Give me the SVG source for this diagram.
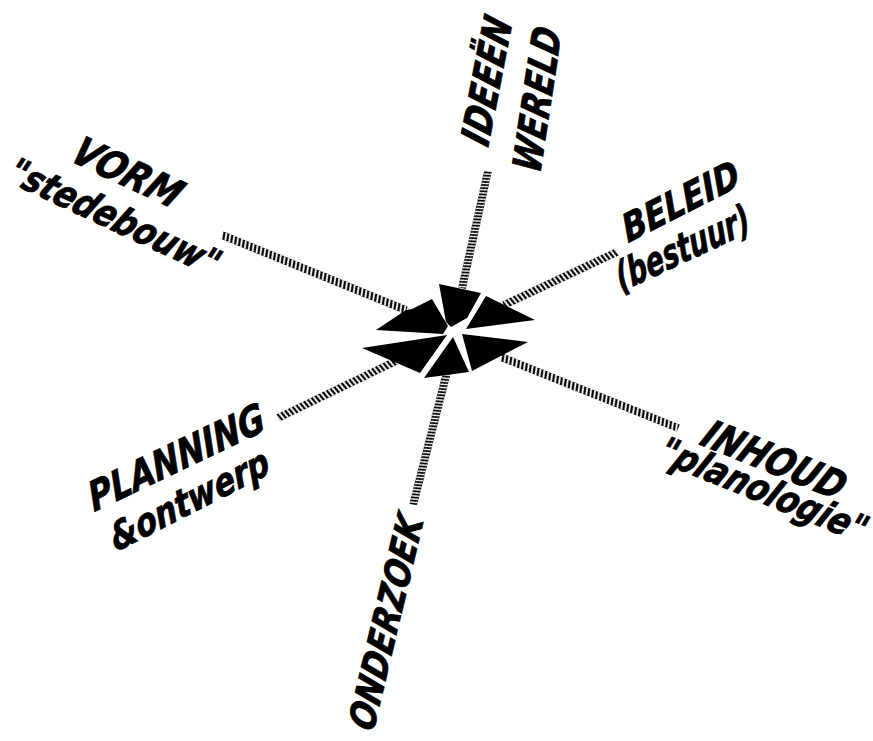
<svg xmlns="http://www.w3.org/2000/svg" width="873" height="741" viewBox="0 0 873 741">
<defs>
<pattern id="rope" patternUnits="userSpaceOnUse" x="0" y="-4" width="4.2" height="8">
<polygon points="0,0 2.3,0 4.2,8 1.9,8" fill="#000"/>
</pattern>
<pattern id="ropefine" patternUnits="userSpaceOnUse" x="0" y="-4" width="3.2" height="8">
<polygon points="0,0 1.8,0 3.2,8 1.4,8" fill="#000"/>
</pattern>
</defs>
<style>
.rope{stroke:url(#rope);stroke-width:8;fill:none}
.fine{stroke:url(#ropefine);stroke-width:8;fill:none}
.head{fill:#000;stroke:none}
.lbl{font-family:"DejaVu Sans Condensed","DejaVu Sans","Liberation Sans",sans-serif;font-weight:bold;font-style:oblique;fill:#000;stroke:#000;stroke-width:0.8}
</style>
<rect width="873" height="741" fill="#fff"/>
<g id="connectors">
<g transform="translate(488,171) rotate(102.5)"><path class="fine" d="M0 0H120"/></g>
<g transform="translate(617,252) rotate(154.9)"><path class="rope" d="M0 0H125"/></g>
<g transform="translate(501,357) rotate(21.86)"><path class="rope" d="M0 0H191"/></g>
<g transform="translate(447,372) rotate(104.3)"><path class="fine" d="M0 0H137"/></g>
<g transform="translate(278,418) rotate(-25.8)"><path class="rope" d="M0 0H131"/></g>
<g transform="translate(222,235) rotate(22.2)"><path class="rope" d="M0 0H199"/></g>
</g>
<g id="hub">
<polygon class="head" points="439,284 481,293 467,318 451,327 446,322"/>
<polygon class="head" points="486,296 535,320 466,329"/>
<polygon class="head" points="462,334 528,342 472,371"/>
<polygon class="head" points="424,378 469,372 453,337"/>
<polygon class="head" points="362,348 447,335 420,373"/>
<polygon class="head" points="376,330 406,310 412,309 432,299 448,326 443,334"/>
<ellipse cx="453" cy="335" rx="3" ry="1.5" fill="#fff" transform="rotate(-30 453 335)"/>
</g>
<g id="ideeen">
<text class="lbl" font-size="40" textLength="163.5" lengthAdjust="spacingAndGlyphs" transform="translate(488,148) rotate(-79) skewX(-8) scale(0.783,1)">IDEEËN</text>
<text class="lbl" font-size="40" textLength="188" lengthAdjust="spacingAndGlyphs" transform="translate(540,175) rotate(-81.4) skewX(-8) scale(0.771,1)">WERELD</text>
</g>
<g id="vorm">
<text class="lbl" font-size="40" textLength="135.6" lengthAdjust="spacingAndGlyphs" transform="translate(68,160) rotate(25) skewX(-8) scale(0.848,1)">VORM</text>
<text class="lbl" font-size="38" textLength="274.6" lengthAdjust="spacingAndGlyphs" transform="translate(4,180) rotate(25) skewX(-8) scale(0.83,1)">"stedebouw"</text>
</g>
<g id="beleid">
<text class="lbl" font-size="38" textLength="150.7" lengthAdjust="spacingAndGlyphs" transform="translate(628,243) rotate(-27) skewX(-8) scale(0.849,1)">BELEID</text>
<text class="lbl" font-size="40" textLength="212" lengthAdjust="spacingAndGlyphs" transform="translate(621,292) rotate(-25) skewX(-8) scale(0.684,1)">(bestuur)</text>
</g>
<g id="inhoud">
<text class="lbl" font-size="40" textLength="181.5" lengthAdjust="spacingAndGlyphs" transform="translate(698,444) rotate(22) skewX(-8) scale(0.826,1)">INHOUD</text>
<text class="lbl" font-size="38" textLength="263.8" lengthAdjust="spacingAndGlyphs" transform="translate(655,460) rotate(22) skewX(-8) scale(0.834,1)">"planologie"</text>
</g>
<g id="planning">
<text class="lbl" font-size="40" textLength="234" lengthAdjust="spacingAndGlyphs" transform="translate(94,512) rotate(-25.5) skewX(-8) scale(0.821,1)">PLANNING</text>
<text class="lbl" font-size="38" textLength="211" lengthAdjust="spacingAndGlyphs" transform="translate(116,552) rotate(-27) skewX(-8) scale(0.829,1)">&amp;ontwerp</text>
</g>
<g id="onderzoek">
<text class="lbl" font-size="37" textLength="266" lengthAdjust="spacingAndGlyphs" transform="translate(373,733) rotate(-76.6) skewX(-8) scale(0.82,1)">ONDERZOEK</text>
</g>
</svg>
